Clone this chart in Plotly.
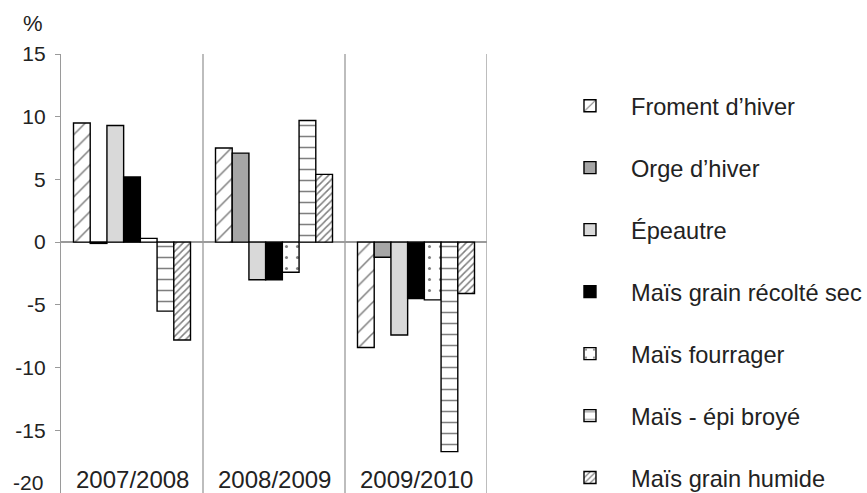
import plotly.graph_objects as go

categories = ["2007/2008", "2008/2009", "2009/2010"]
series_names = [
    "Froment d’hiver",
    "Orge d’hiver",
    "Épeautre",
    "Maïs grain récolté sec",
    "Maïs fourrager",
    "Maïs - épi broyé",
    "Maïs grain humide",
]
froment = [9.5, 7.5, -8.4]
orge = [-0.1, 7.1, -1.2]
epeautre = [9.3, -3.0, -7.4]
mais_sec = [5.2, -3.0, -4.5]
mais_fourrager = [0.3, -2.4, -4.6]
mais_epi = [-5.5, 9.7, -16.7]
mais_humide = [-7.8, 5.4, -4.1]
values = [froment, orge, epeautre, mais_sec, mais_fourrager, mais_epi, mais_humide]
y_ticks = [15, 10, 5, 0, -5, -10, -15, -20]

styles = [
    dict(color="white", pattern=dict(shape="/", bgcolor="white", fgcolor="black", size=11, solidity=0.14)),
    dict(color="#a6a6a6"),
    dict(color="#d9d9d9"),
    dict(color="black"),
    dict(color="white", pattern=dict(shape=".", bgcolor="white", fgcolor="black", size=11, solidity=0.06)),
    dict(color="white", pattern=dict(shape="-", bgcolor="white", fgcolor="black", size=11, solidity=0.14)),
    dict(color="white", pattern=dict(shape="/", bgcolor="white", fgcolor="black", size=5, solidity=0.3)),
]

FONT = "Liberation Sans, Arial, sans-serif"
fig = go.Figure()
xs = [0, 1, 2]
for name, vals, st in zip(series_names, values, styles):
    marker = dict(line=dict(color="black", width=1.4))
    marker.update(st)
    fig.add_trace(go.Bar(x=xs, y=vals, name=name, marker=marker, legendgroup=name))

for xv in [0.5, 1.5, 2.5]:
    fig.add_shape(type="line", xref="x", yref="y", x0=xv, x1=xv, y0=-20, y1=15,
                  line=dict(color="#9a9a9a", width=1.3), layer="below")

for i, c in enumerate(categories):
    fig.add_annotation(x=i, y=-18.9, xref="x", yref="y", text=c, showarrow=False,
                       yanchor="middle", font=dict(size=24, color="#222", family=FONT))

# bottom tick label (drawn as text so it stays visible at the lower edge)
fig.add_annotation(x=-0.0376, y=y_ticks[-1], xref="paper", yref="y", text=str(y_ticks[-1]),
                   showarrow=False, xanchor="right", yanchor="middle", yshift=11,
                   font=dict(size=21, color="#222", family=FONT))

fig.add_annotation(x=-0.0657, y=1.0706, xref="paper", yref="paper", text="%", showarrow=False,
                   xanchor="center", yanchor="middle", font=dict(size=22, color="#222", family=FONT))

fig.update_layout(
    width=867, height=493,
    margin=dict(l=61, r=380, t=54, b=0, autoexpand=False),
    paper_bgcolor="white", plot_bgcolor="white",
    barmode="group", bargap=0.176, bargroupgap=0,
    showlegend=True,
    legend=dict(x=1.1455, y=0.932, xanchor="left", yanchor="top",
                font=dict(size=23.6, color="#222", family=FONT),
                tracegroupgap=28.3, itemwidth=72, bgcolor="rgba(0,0,0,0)"),
    xaxis=dict(range=[-0.5, 2.5], showticklabels=False, showline=False, showgrid=False,
               zeroline=False, ticks=""),
    yaxis=dict(range=[-20, 15], tickvals=y_ticks,
               ticktext=[str(v) for v in y_ticks[:-1]] + [""],
               showline=True, linecolor="#9a9a9a", linewidth=1.3, ticks="outside",
               ticklen=5, tickcolor="#9a9a9a", showgrid=False, zeroline=True,
               zerolinecolor="#9a9a9a", zerolinewidth=1.5, ticklabelstandoff=5,
               tickfont=dict(size=21, color="#222", family=FONT)),
)

fig.write_html(
    "out.html",
    config={"displayModeBar": False},
    post_script="document.body.style.margin='0';document.body.style.overflow='hidden';",
)
